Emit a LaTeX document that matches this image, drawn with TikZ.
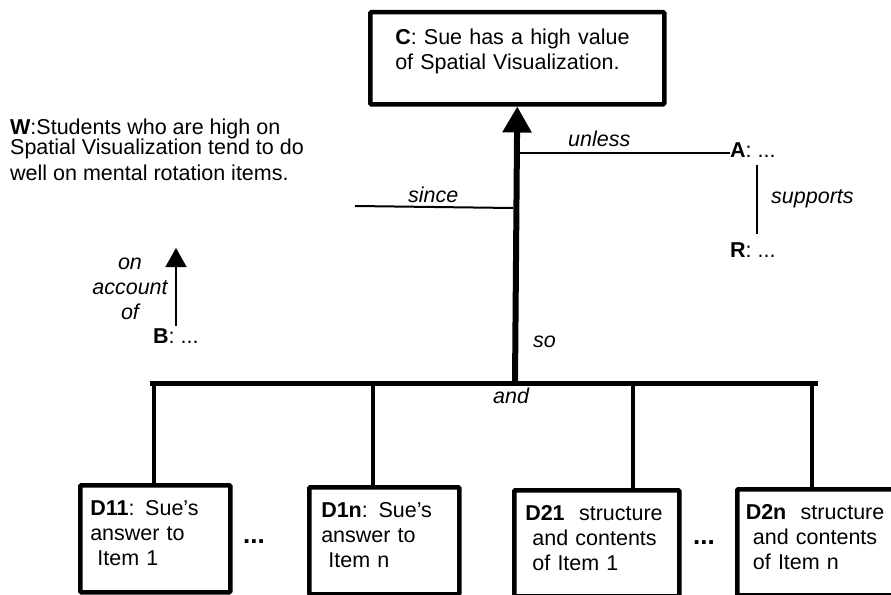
\documentclass[tikz,border=0pt]{standalone}
\usepackage{fontspec}
\setmainfont{Liberation Sans}
\usetikzlibrary{arrows.meta, positioning, calc}
\newcommand{\dfont}{\fontsize{21.5}{25}\selectfont}
\newcommand{\padlow}[1]{\rule[-#1]{0pt}{#1}}
\tikzset{
    argbox/.style={
        rectangle,
        draw=black,
        line width=4.5pt,
        rounded corners=1pt,
        anchor=north west,
        align=left,
        inner sep=0pt,
        font=\dfont
    },
    lbl/.style={
        anchor=base west,
        inner sep=0pt,
        font=\dfont
    },
    linkword/.style={
        anchor=base west,
        inner sep=0pt,
        font=\dfont\itshape
    },
    dots/.style={
        anchor=base,
        inner sep=0pt,
        font=\fontsize{26}{30}\selectfont\bfseries
    },
    stem/.style={
        draw=black,
        line width=6pt,
        -{Triangle[width=28pt,length=26pt]}
    },
    bar/.style={
        draw=black,
        line width=5pt,
        line cap=rect
    },
    leg/.style={
        draw=black,
        line width=4.5pt
    },
    thinline/.style={
        draw=black,
        line width=2pt
    },
    hairline/.style={
        draw=black,
        line width=1.5pt
    },
    smallarrow/.style={
        draw=black,
        line width=1.5pt,
        -{Triangle[width=21pt,length=19pt]}
    }
}

\begin{document}
\begin{tikzpicture}[x=1pt, y=-1pt]
\useasboundingbox (0,0) rectangle (891,594);

% Claim (top)
\node[argbox, minimum width=294pt, minimum height=92pt, text width=244pt] (claim) at (368,10) {\textbf{C}: Sue has a high value\\of Spatial Visualization.\padlow{18pt}};

% Data boxes (bottom)
\node[argbox, minimum width=150pt, minimum height=107pt, text width=130pt] (d11) at (78,483) {\textbf{D11}: Sue's\\answer to\\\ Item 1\padlow{11pt}};
\node[argbox, minimum width=150pt, minimum height=107pt, text width=126pt] (d1n) at (307,485) {\textbf{D1n}: Sue's\\answer to\\\ Item n\padlow{11pt}};
\node[argbox, minimum width=165pt, minimum height=106pt, text width=143pt] (d21) at (512,488) {\textbf{D21}\ \ structure\\\ and contents\\\ of Item 1\padlow{10pt}};
\node[argbox, minimum width=160pt, minimum height=106pt, text width=143pt] (d2n) at (735,487) {\textbf{D2n}\ \ structure\\\ and contents\\\ of Item n\padlow{10pt}};
\node[dots] (gap1) at (254,543) {...};
\node[dots] (gap2) at (704,544) {...};

% Warrant, backing, rebuttal
\node[lbl, align=left, anchor=north west] (warrant) at (10,119) {\textbf{W}:Students who are high on\\[-5pt]Spatial Visualization tend to do\\[1pt]well on mental rotation items.};
\node[lbl] (backing) at (153,343) {\textbf{B}: ...};
\node[lbl] (alt) at (730,157) {\textbf{A}: ...};
\node[lbl] (rebuttal) at (730,257) {\textbf{R}: ...};

% Link words
\node[linkword] (since) at (408,202) {since};
\node[linkword] (unless) at (568,146) {unless};
\node[linkword] (supports) at (771,203) {supports};
\node[linkword, align=center, anchor=north] (account) at (130,258) {on\\account\\of};
\node[linkword] (so) at (533,347) {so};
\node[linkword] (and) at (493,403) {and};

% Bar and taps
\coordinate (barL) at (152,383);
\coordinate (barR) at (815,383);
\coordinate (foot) at (515,383);
\coordinate (tap1) at (154,383);
\coordinate (tap2) at (373,383);
\coordinate (tap3) at (633,383);
\coordinate (tap4) at (812,383);
\coordinate (sinceEnd) at (355,206);
\coordinate (sinceJoin) at (513,208);
\coordinate (unlessJoin) at (515,153);
\coordinate (accountTip) at (176,248);

% Connections
\draw[bar] (barL) -- (barR);
\draw[stem] (foot) -- (claim.south);
\draw[leg] (tap1) -- (tap1 |- d11.north);
\draw[leg] (tap2) -- (tap2 |- d1n.north);
\draw[leg] (tap3) -- (tap3 |- d21.north);
\draw[leg] (tap4) -- (tap4 |- d2n.north);
\draw[thinline] (sinceEnd) -- (sinceJoin);
\draw[thinline] (unlessJoin) -- (unlessJoin -| alt.west);
\draw[hairline] ($(alt.south west)+(27,8)$) -- ($(rebuttal.north west)+(27,-8)$);
\draw[smallarrow] ($(backing.north west)+(23,-2)$) -- (accountTip);

\end{tikzpicture}
\end{document}
